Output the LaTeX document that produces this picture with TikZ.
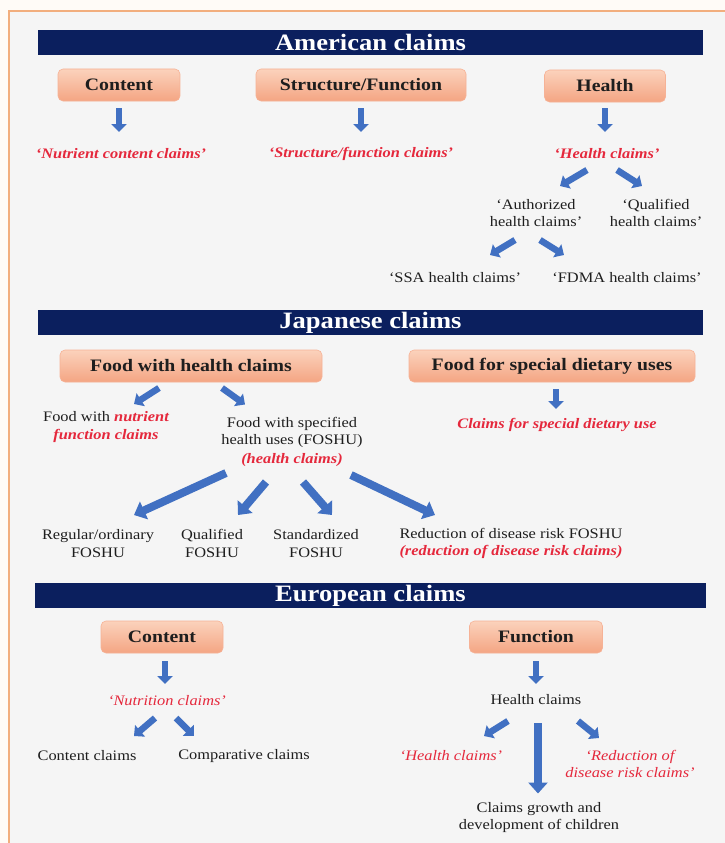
\documentclass[tikz,border=0pt]{standalone}
\usepackage{fontspec}
\setmainfont{Liberation Serif}[FakeStretch=1.13]
\usetikzlibrary{arrows.meta,calc}
\definecolor{navy}{HTML}{0B1F5E}
\definecolor{frameor}{HTML}{F2AE7E}
\definecolor{bgg}{HTML}{F5F5F5}
\definecolor{ablue}{HTML}{4170C2}
\definecolor{redt}{HTML}{E5283C}
\definecolor{boxtop}{HTML}{FBD2BC}
\definecolor{boxbot}{HTML}{F4A583}
\definecolor{txtc}{HTML}{1E1E1E}
\begin{document}
\begin{tikzpicture}[x=1pt,y=-1pt,
 banner/.style={fill=navy, minimum width=665pt, minimum height=25pt, text=white,
   font=\fontsize{23.5}{25}\selectfont\bfseries, inner sep=0pt},
 cbox/.style={rounded corners=5pt, top color=boxtop, bottom color=boxbot,
   draw=boxbot!85!white, line width=0.6pt, minimum height=32pt, text=txtc,
   font=\fontsize{17.5}{20}\selectfont\bfseries, inner sep=0pt},
 txt/.style={font=\fontsize{14.5}{17.5}\selectfont, text=txtc, align=center, inner sep=0pt},
 rtxt/.style={font=\fontsize{14.5}{17.5}\selectfont\bfseries\itshape, text=redt, align=center, inner sep=0pt},
 rtxtl/.style={font=\fontsize{14.5}{17}\selectfont\itshape, text=redt, align=center, inner sep=0pt},
 barrow/.style={draw=ablue, line width=6.5pt, -{Triangle[length=8pt,width=15pt]}},
 bigarrow/.style={draw=ablue, line width=8pt, -{Triangle[length=11pt,width=19pt]}},
]
\useasboundingbox (0,0) rectangle (725,843);
\fill[white!97!orange] (0,0) rectangle (725,843);
\draw[frameor, line width=2pt, fill=bgg] (9,11) rectangle (745,860);

% ---------------- American ----------------
\node[banner] (am) at (370.5,42.5) {American claims};
\node[cbox, minimum width=122pt] (a1) at (119,85) {Content};
\node[cbox, minimum width=210pt] (a2) at (361,85) {Structure/Function};
\node[cbox, minimum width=121pt] (a3) at (605,86) {Health};

\node[rtxt] (ar1) at (121,154) {‘Nutrient content claims’};
\node[rtxt] (ar2) at (361,154) {‘Structure/function claims’};
\node[rtxt] (ar3) at (607,154) {‘Health claims’};

\node[txt] (auth) at (536,213) {‘Authorized\\health claims’};
\node[txt] (qual) at (656,213) {‘Qualified\\health claims’};
\node[txt] (ssa) at (455,278) {‘SSA health claims’};
\node[txt] (fdma) at (627,278) {‘FDMA health claims’};

\draw[barrow] ($(a1)+(0,23)$) -- ($(ar1)+(-2,-22)$);
\draw[barrow] ($(a2)+(0,23)$) -- ($(ar2)+(0,-22)$);
\draw[barrow] ($(a3)+(0,22)$) -- ($(ar3)+(-2,-22)$);
\draw[barrow] ($(ar3)+(-20,16)$) -- ($(auth)+(24,-27)$);
\draw[barrow] ($(ar3)+(10,16)$) -- ($(qual)+(-14,-27)$);
\draw[barrow] ($(auth)+(-21,27)$) -- ($(ssa)+(35,-23)$);
\draw[barrow] ($(auth)+(4,27)$) -- ($(fdma)+(-63,-23)$);

% ---------------- Japanese ----------------
\node[banner] (jp) at (370.5,322.5) {Japanese claims};
\node[cbox, minimum width=262pt] (j1) at (191,366) {Food with health claims};
\node[cbox, minimum width=286pt] (j2) at (552,366) {Food for special dietary uses};

\node[txt] (fnut) at (106,427) {Food with \textcolor{redt}{\bfseries\itshape nutrient}\\\textcolor{redt}{\bfseries\itshape function claims}};
\node[txt] (fosh) at (292,432.5) {Food with specified\\health uses (FOSHU)};
\node[rtxt] (hc) at (292,460) {(health claims)};
\node[rtxt] (csd) at (557,425) {Claims for special dietary use};

\node[txt] (reg) at (98,543.5) {Regular/ordinary\\FOSHU};
\node[txt] (qf) at (212,543.5) {Qualified\\FOSHU};
\node[txt] (std) at (316,543.5) {Standardized\\FOSHU};
\node[txt] (rdr) at (511,543.5) {Reduction of disease risk FOSHU\\\textcolor{redt}{\bfseries\itshape (reduction of disease risk claims)}};

\draw[barrow] ($(j1)+(-32,22)$) -- ($(fnut)+(28,-23)$);
\draw[barrow] ($(j1)+(31,22)$) -- ($(fosh)+(-47,-28)$);
\draw[barrow] ($(j2)+(4,23)$) -- ($(csd)+(-1,-16)$);
\draw[bigarrow] ($(hc)+(-66,13)$) -- ($(reg)+(36,-28.5)$);
\draw[bigarrow] ($(hc)+(-26,22)$) -- ($(qf)+(26,-28.5)$);
\draw[bigarrow] ($(hc)+(11,22)$) -- ($(std)+(16,-28.5)$);
\draw[bigarrow] ($(hc)+(59,15)$) -- ($(rdr)+(-76,-28.5)$);

% ---------------- European ----------------
\node[banner, minimum width=671pt] (eu) at (370.5,595.5) {European claims};
\node[cbox, minimum width=122pt] (e1) at (162,637) {Content};
\node[cbox, minimum width=133pt] (e2) at (536,637) {Function};

\node[rtxtl] (nc) at (167,701) {‘Nutrition claims’};
\node[txt] (hcl) at (536,700) {Health claims};
\node[txt] (cc) at (87,756) {Content claims};
\node[txt] (cmp) at (244,756) {Comparative claims};
\node[rtxtl] (ehc) at (451,756) {‘Health claims’};
\node[rtxtl] (rdc) at (630,764) {‘Reduction of\\disease risk claims’};
\node[txt] (cgd) at (539,817.5) {Claims growth and\\development of children};

\draw[barrow] ($(e1)+(3,24)$) -- ($(nc)+(-2,-17)$);
\draw[barrow] ($(e2)+(0,24)$) -- ($(hcl)+(0,-16)$);
\draw[barrow] ($(nc)+(-12,17)$) -- ($(cc)+(47,-20)$);
\draw[barrow] ($(nc)+(9,17)$) -- ($(cmp)+(-50,-20)$);
\draw[barrow] ($(hcl)+(-28,21)$) -- ($(ehc)+(33,-20)$);
\draw[barrow] ($(hcl)+(42,21)$) -- ($(rdc)+(-31,-26)$);
\draw[bigarrow] ($(hcl)+(2,23)$) -- ($(cgd)+(-1,-24)$);
\end{tikzpicture}
\end{document}
